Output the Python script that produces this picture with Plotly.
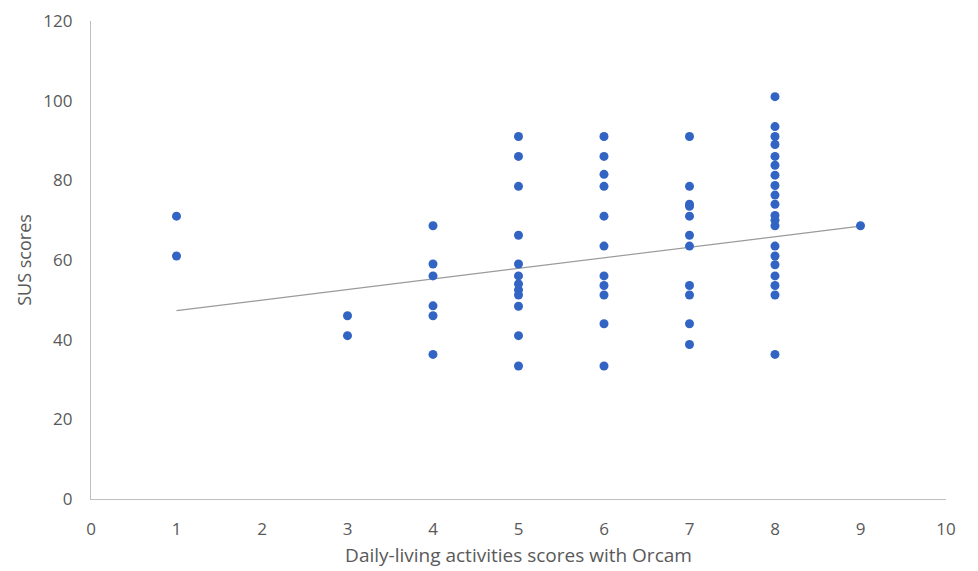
import plotly.graph_objects as go

# Data
adl_scores = [1, 1,
              3, 3,
              4, 4, 4, 4, 4, 4,
              5, 5, 5, 5, 5, 5, 5, 5, 5, 5, 5, 5,
              6, 6, 6, 6, 6, 6, 6, 6, 6, 6, 6,
              7, 7, 7, 7, 7, 7, 7, 7, 7, 7, 7,
              8, 8, 8, 8, 8, 8, 8, 8, 8, 8, 8, 8, 8, 8, 8, 8, 8, 8, 8, 8,
              9]
sus_scores = [71, 61,
              46, 41,
              68.6, 59, 56, 48.5, 46, 36.3,
              91, 86, 78.5, 66.2, 59, 56, 54, 52.5, 51.2, 48.4, 41, 33.4,
              91, 86, 81.5, 78.5, 71, 63.5, 56, 53.6, 51.2, 44, 33.4,
              91, 78.5, 74, 73.5, 71, 66.2, 63.5, 53.6, 51.2, 44, 38.8,
              101, 93.5, 91, 89, 86, 83.8, 81.3, 78.7, 76.3, 74, 71.2, 70, 68.6,
              63.5, 61, 58.8, 56, 53.6, 51.2, 36.3,
              68.6]

# Linear trendline as drawn in the reference (end points)
trend_x = [1, 9]
trend_y = [47.3, 68.5]

x_ticks = list(range(0, 11))
y_ticks = list(range(0, 121, 20))

fig = go.Figure()
fig.add_trace(go.Scatter(
    x=trend_x, y=trend_y, mode="lines",
    line=dict(color="#9a9a9a", width=1.2),
    showlegend=False, hoverinfo="skip"))
fig.add_trace(go.Scatter(
    x=adl_scores, y=sus_scores, mode="markers",
    marker=dict(color="#3264c4", size=9, line=dict(width=0)),
    showlegend=False))

font_family = "Open Sans, Liberation Sans, sans-serif"
txt = "#595959"
fig.update_layout(
    width=978, height=571,
    margin=dict(l=83, r=40, t=13, b=80),
    paper_bgcolor="white", plot_bgcolor="white",
    font=dict(family=font_family, color=txt, size=17),
    xaxis=dict(range=[0, 10], tickvals=x_ticks, showgrid=False, zeroline=False,
               showline=True, linecolor="#bfbfbf", linewidth=1.3, ticks="",
               automargin=False, ticklabelstandoff=14,
               tickfont=dict(size=17, color=txt),
               title=dict(text="Daily-living activities scores with Orcam",
                          font=dict(size=19, color=txt), standoff=10)),
    yaxis=dict(range=[0, 120], tickvals=y_ticks, showgrid=False, zeroline=False,
               showline=True, linecolor="#bfbfbf", linewidth=1.3, ticks="",
               automargin=False, ticklabelstandoff=14,
               tickfont=dict(size=17, color=txt),
               title=dict(text="SUS scores",
                          font=dict(size=18, color=txt), standoff=6)),
)

fig.write_html("out.html")
